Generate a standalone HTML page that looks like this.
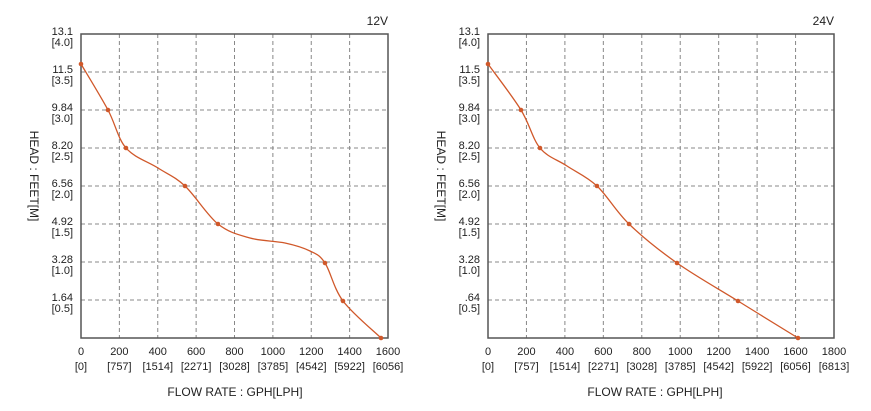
<!DOCTYPE html>
<html><head><meta charset="utf-8"><style>
html,body{margin:0;padding:0;background:#fff;}
svg{display:block;font-family:"Liberation Sans",Arial,sans-serif;}
</style></head><body>
<svg id="s" width="871" height="411" viewBox="0 0 871 411" xmlns="http://www.w3.org/2000/svg"></svg>
<script>
const s=document.getElementById('s');let h='';
function chart(L,R,xmax,volt,pts,ylabs,xl){
 const T=34,B=338;
 const n=xmax/200, dx=(R-L)/n;
 for(let i=1;i<n;i++){const x=L+i*dx;h+=`<line x1="${x}" y1="${T}" x2="${x}" y2="${B}" stroke="#888" stroke-width="1" stroke-dasharray="4,3"/>`;}
 for(let j=1;j<8;j++){const y=T+j*(B-T)/8;h+=`<line x1="${L}" y1="${y}" x2="${R}" y2="${y}" stroke="#888" stroke-width="1" stroke-dasharray="4,3"/>`;}
 h+=`<rect x="${L}" y="${T}" width="${R-L}" height="${B-T}" fill="none" stroke="#555" stroke-width="1.5"/>`;
 const ylv=[['13.1','[4.0]'],['11.5','[3.5]'],['9.84','[3.0]'],['8.20','[2.5]'],['6.56','[2.0]'],['4.92','[1.5]'],ylabs[0],ylabs[1]];
 ylv.forEach((v,j)=>{const y=T+j*(B-T)/8;h+=`<text x="${L-8}" y="${y+1}" font-size="11" text-anchor="end" fill="#222">${v[0]}</text><text x="${L-8}" y="${y+12}" font-size="11" text-anchor="end" fill="#222">${v[1]}</text>`;});
 const lph=['[0]','[757]','[1514]','[2271]','[3028]','[3785]','[4542]','[5922]','[6056]','[6813]'];
 for(let i=0;i<=n;i++){const x=L+i*dx;h+=`<text x="${x}" y="355" font-size="11" text-anchor="middle" fill="#222">${i*200}</text><text x="${x}" y="370" font-size="11" text-anchor="middle" fill="#222">${lph[i]}</text>`;}
 h+=`<text x="${xl}" y="396" font-size="12" text-anchor="middle" fill="#222">FLOW RATE : GPH[LPH]</text>`;
 h+=`<text transform="translate(${L-51},176) rotate(90)" font-size="12" text-anchor="middle" fill="#222">HEAD : FEET[M]</text>`;
 h+=`<text x="${R}" y="25" font-size="12" text-anchor="end" fill="#222">${volt}</text>`;
 let d=`M${pts[0][0]},${pts[0][1]}`;
 for(let i=0;i<pts.length-1;i++){const p0=pts[Math.max(0,i-1)],p1=pts[i],p2=pts[i+1],p3=pts[Math.min(pts.length-1,i+2)];
  const c1=[p1[0]+(p2[0]-p0[0])/6,p1[1]+(p2[1]-p0[1])/6],c2=[p2[0]-(p3[0]-p1[0])/6,p2[1]-(p3[1]-p1[1])/6];
  d+=` C${c1[0]},${c1[1]} ${c2[0]},${c2[1]} ${p2[0]},${p2[1]}`;}
 h+=`<path d="${d}" fill="none" stroke="#d0582a" stroke-width="1.3"/>`;
 pts.forEach(p=>{if(!p[2])h+=`<circle cx="${p[0]}" cy="${p[1]}" r="2.3" fill="#d0582a"/>`;});
}
chart(81,388,1600,'12V',[[81,64],[108,110],[126,148],[158,168,1],[185,186],[218,224],[250,238,1],[285,243,1],[310,251,1],[325,263],[343,301],[381,338]],[['3.28','[1.0]'],['1.64','[0.5]']],235);
chart(488,834,1800,'24V',[[488,64],[521,110],[540,148],[567,166,1],[597,186],[629,224],[677,263],[738,301],[798,338]],[['3.28','[1.0]'],['.64','[0.5]']],655);
s.innerHTML=h;
</script>
</body></html>
